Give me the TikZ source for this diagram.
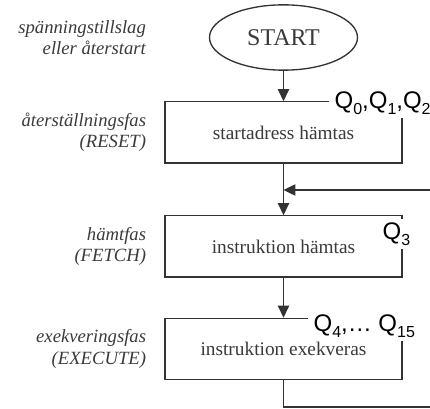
\documentclass[tikz,border=0pt]{standalone}
\usepackage{fontspec}
\setmainfont{Liberation Serif}
\newfontfamily\qfont{Liberation Sans}
\usetikzlibrary{positioning, shapes.geometric, arrows.meta}

\definecolor{linegray}{HTML}{333333}
\definecolor{textgray}{HTML}{3A3A3A}

% index of a state number
\newcommand{\qsub}[1]{\raisebox{-0.22em}{\fontsize{12}{12}\selectfont #1}}

\tikzset{
	stepbox/.style={draw=linegray, line width=1pt, fill=white, minimum width=177.75pt, minimum height=46pt,
		text=textgray, font=\fontsize{14.5}{17}\selectfont},
	phase/.style={font=\fontsize{14}{16}\selectfont\itshape, text=textgray, align=right, inner sep=0pt},
	qlabel/.style={fill=white, inner xsep=4pt, inner ysep=3pt, font=\qfont\fontsize{18}{20}\selectfont, anchor=base west},
	arr/.style={draw=linegray, line width=1pt, -{Triangle[length=9pt, width=8.5pt]}},
	wire/.style={draw=linegray, line width=1pt}
}

\begin{document}
\begin{tikzpicture}[x=0.75pt, y=-0.75pt]
	% picture frame, in pixels of the reference
	\useasboundingbox (0,0) rectangle (430,409);

	% Define positions
	\def\xmid{283.5}
	\def\xedge{430}

	% Start and the three phases
	\node[ellipse, draw=linegray, line width=1pt, minimum width=111pt, minimum height=49pt, inner sep=0pt,
		font=\fontsize{18}{20}\selectfont, text=textgray] (start) at (\xmid, 37.5) {START};
	\node[stepbox] (reset) at (\xmid, 132.5) {startadress hämtas};
	\node[stepbox] (fetch) at (\xmid, 246.5) {instruktion hämtas};
	\node[stepbox] (exec) at (\xmid, 349) {instruktion exekveras};

	% Phase names on the left
	\node[phase, left=47pt of start] (powerlbl) {spänningstillslag\\eller återstart};
	\node[phase, left=13.5pt of reset] (resetlbl) {återställningsfas\\(RESET)};
	\node[phase, left=13.5pt of fetch] (fetchlbl) {hämtfas\\(FETCH)};
	\node[phase, left=13.5pt of exec] (execlbl) {exekveringsfas\\(EXECUTE)};

	% States of each phase
	\node[qlabel] (qreset) at (329, 109) {Q\qsub{0},Q\qsub{1},Q\qsub{2}};
	\node[qlabel] (qfetch) at (377, 240) {Q\qsub{3}};
	\node[qlabel] (qexec) at (308, 332) {Q\qsub{4},… Q\qsub{15}};

	% Flow
	\draw[arr] (start) -- (reset);
	\draw[arr] (reset) -- (fetch);
	\draw[arr] (fetch) -- (exec);

	% Loop back to the fetch phase
	\coordinate (loopout) at (\xedge, 407);
	\coordinate (loopin) at (\xedge, 190);
	\draw[wire] (exec.south) |- (loopout);
	\draw[arr] (loopin) -- (loopin -| reset.south);
\end{tikzpicture}
\end{document}
